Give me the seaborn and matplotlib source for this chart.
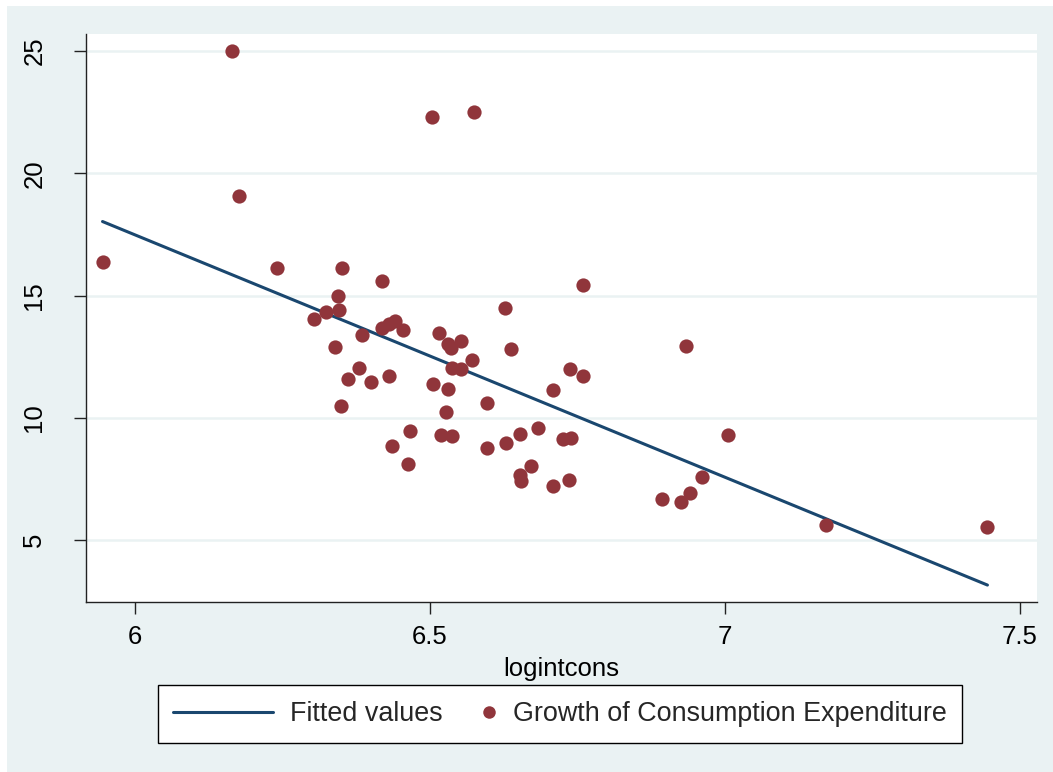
import numpy as np
import pandas as pd
import matplotlib
matplotlib.use("Agg")
import matplotlib.pyplot as plt
import seaborn as sns
from matplotlib.legend_handler import HandlerLine2D
from matplotlib.lines import Line2D
from matplotlib.patches import Rectangle

# ---- data ----
logintcons = [6.164, 6.503, 6.575, 6.177, 5.945, 6.240, 6.351, 6.418, 6.759, 6.345,
              6.628, 6.346, 6.323, 6.303, 6.440, 6.431, 6.419, 6.454, 6.384, 6.515,
              6.553, 6.531, 6.535, 6.339, 6.934, 6.637, 6.572, 6.538, 6.553, 6.379,
              6.737, 6.759, 6.431, 6.361, 6.400, 6.506, 6.531, 6.709, 6.597, 6.350,
              6.528, 6.684, 6.466, 6.653, 7.005, 6.519, 6.538, 6.739, 6.725, 6.629,
              6.436, 6.596, 6.462, 6.671, 6.653, 6.962, 6.735, 6.655, 6.709, 6.940,
              6.894, 6.926, 7.171, 7.445]
growth = [25.00, 22.30, 22.51, 19.08, 16.36, 16.11, 16.14, 15.61, 15.43, 14.98,
          14.48, 14.42, 14.34, 14.03, 13.97, 13.82, 13.66, 13.59, 13.38, 13.45,
          13.14, 13.03, 12.87, 12.89, 12.92, 12.80, 12.35, 12.05, 12.00, 12.03,
          11.98, 11.70, 11.71, 11.57, 11.47, 11.37, 11.18, 11.12, 10.60, 10.47,
          10.23, 9.58, 9.46, 9.32, 9.31, 9.28, 9.25, 9.17, 9.12, 8.95,
          8.86, 8.76, 8.10, 8.03, 7.65, 7.58, 7.45, 7.41, 7.20, 6.91,
          6.68, 6.57, 5.63, 5.53]
x_ticks = [6, 6.5, 7, 7.5]
x_tick_labels = ["6", "6.5", "7", "7.5"]
y_ticks = [5, 10, 15, 20, 25]
y_tick_labels = ["5", "10", "15", "20", "25"]
x_label = "logintcons"
fit_label = "Fitted values"
scatter_label = "Growth of Consumption Expenditure"

BG = "#EAF2F3"
NAVY = "#1A476F"
MAROON = "#90353B"

sns.set_theme(style="white")
plt.rcParams['font.family'] = ['Liberation Sans', 'DejaVu Sans']

W, H = 1053, 772
fig = plt.figure(figsize=(W / 100, H / 100), dpi=100, facecolor="white")
fig.add_artist(Rectangle((7 / W, -0.01), 1.01, 1.01 - 6 / H, transform=fig.transFigure,
                         facecolor=BG, edgecolor="none", zorder=-5))

ax = fig.add_axes([86 / W, 1 - 601.7 / H, (1037 - 86) / W, (601.7 - 34) / H])
ax.set_facecolor("white")

df = pd.DataFrame({"logintcons": logintcons, "growth": growth})

sns.regplot(data=df, x="logintcons", y="growth", ax=ax, scatter=False, ci=None,
            color=NAVY, line_kws=dict(lw=2.2, label=fit_label, zorder=2))
sns.scatterplot(data=df, x="logintcons", y="growth", ax=ax, color=MAROON, s=105,
                linewidth=0, zorder=3, legend=False)

ax.set_xlim(5.917, 7.529)
ax.set_ylim(2.48, 25.695)

ax.set_xticks(x_ticks)
ax.set_xticklabels(x_tick_labels)
ax.set_yticks(y_ticks)
ax.set_yticklabels(y_tick_labels, rotation=90, va="center")

ax.grid(axis="y", color=BG, lw=1.8)
ax.grid(axis="x", visible=False)
ax.set_axisbelow(True)

for s in ["top", "right"]:
    ax.spines[s].set_visible(False)
for s in ["left", "bottom"]:
    ax.spines[s].set_color("#222222")
    ax.spines[s].set_linewidth(1.0)

ax.tick_params(axis="both", direction="out", length=8.6, width=1.0, color="#222222",
               labelsize=18.5, labelcolor="black")
ax.tick_params(axis="x", pad=8)
ax.tick_params(axis="y", pad=20)
ax.tick_params(left=True, bottom=True)

ax.set_xlabel(x_label, fontsize=18.5, color="black", labelpad=6)
ax.set_ylabel("")


class RightMarkerHandler(HandlerLine2D):
    def get_xdata(self, legend, xdescent, ydescent, width, height, fontsize):
        xm = -xdescent + width - 0.27 * fontsize
        return [xm - 1, xm + 1], [xm]


line_handle = ax.get_lines()[0]
dot_handle = Line2D([], [], marker="o", ls="none", color=MAROON, markersize=9,
                    markeredgewidth=0)

leg = fig.legend([line_handle, dot_handle], [fit_label, scatter_label],
                 loc="center", bbox_to_anchor=(560 / W, 1 - 714 / H), ncol=2,
                 frameon=True, fancybox=False, edgecolor="black", framealpha=1,
                 facecolor="white", fontsize=19.4, handlelength=3.72,
                 handletextpad=0.6, columnspacing=-1.70, borderpad=0.58,
                 handler_map={dot_handle: RightMarkerHandler(numpoints=1)})
leg.get_frame().set_linewidth(1.0)

fig.savefig("out.png", dpi=100, facecolor=fig.get_facecolor())
